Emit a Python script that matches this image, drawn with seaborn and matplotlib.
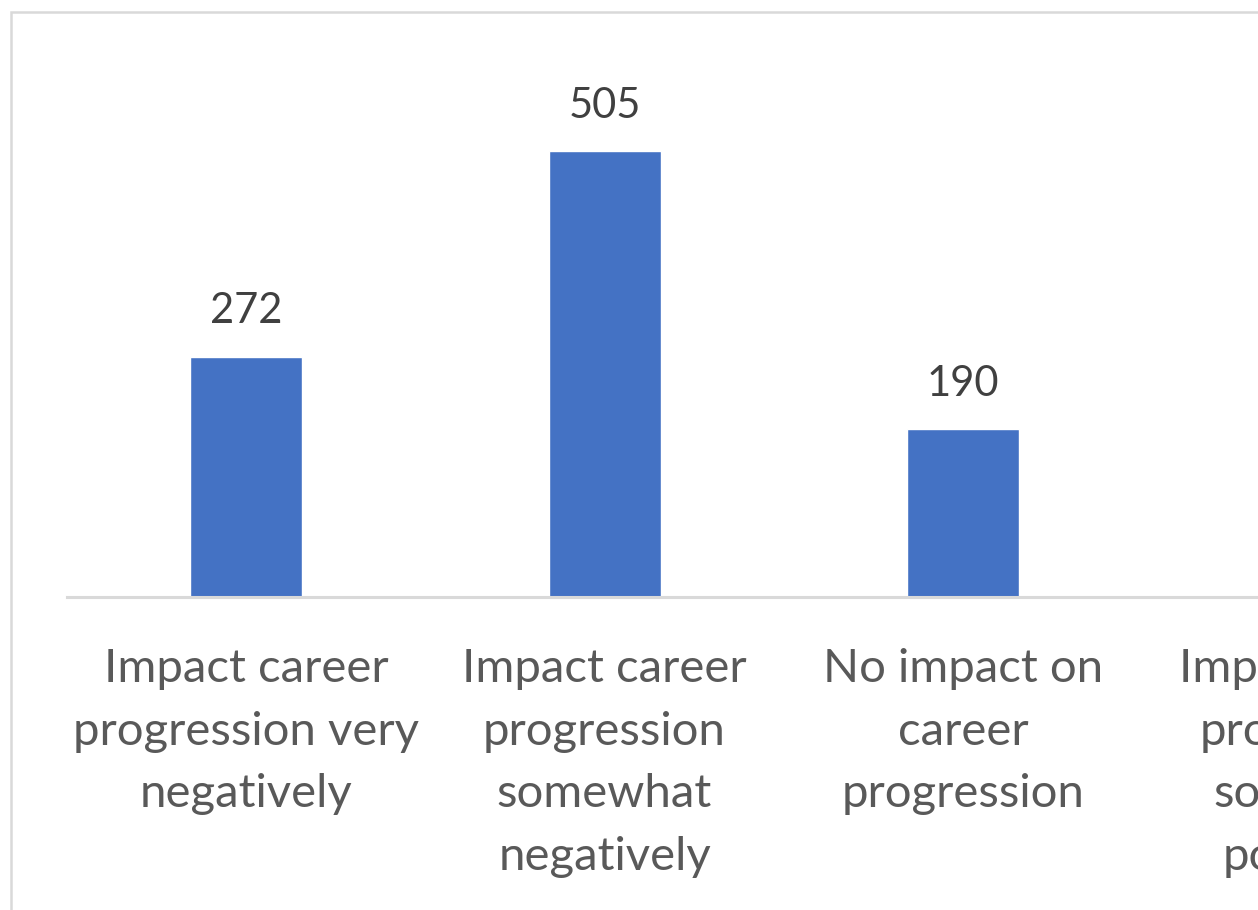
import textwrap

import matplotlib
matplotlib.use("Agg")
import matplotlib.pyplot as plt
from matplotlib.patches import Rectangle
import seaborn as sns

# Survey responses: perceived effect on career progression
categories = [
    "Impact career progression very negatively",
    "Impact career progression somewhat negatively",
    "No impact on career progression",
    "Impact career progression somewhat positively",
]
counts = [272, 505, 190, 120]
tick_labels = [textwrap.fill(c, width=16) for c in categories]

BAR_COLOR = "#4472C4"
GRID_GREY = "#D9D9D9"
LABEL_GREY = "#595959"
VALUE_GREY = "#404040"

sns.set_theme(style="white")
plt.rcParams["font.family"] = ["Lato", "DejaVu Sans"]

W, H = 1258, 910
fig = plt.figure(figsize=(W / 100, H / 100), dpi=100)

# Plot area: one category slot is ~358 px wide; the last slot runs past the canvas
slot = 358.5
left_px, base_px, top_px = 66.75, 597, 67
ax = fig.add_axes([
    left_px / W,
    (H - base_px) / H,
    slot * len(categories) / W,
    (base_px - top_px) / H,
])

sns.barplot(x=tick_labels, y=counts, color=BAR_COLOR, saturation=1,
            width=112 / slot, ax=ax)
ax.set_ylim(0, 600)
ax.set_xlim(-0.5, len(categories) - 0.5)

ax.bar_label(ax.containers[0], labels=[str(v) for v in counts],
             padding=19, fontsize=30, color=VALUE_GREY)

for side in ("top", "right", "left"):
    ax.spines[side].set_visible(False)
ax.spines["bottom"].set_color(GRID_GREY)
ax.spines["bottom"].set_linewidth(2.2)
ax.set_yticks([])
ax.set_ylabel("")
ax.set_xlabel("")
ax.tick_params(axis="x", length=0, pad=37, labelsize=34, labelcolor=LABEL_GREY)
for t in ax.get_xticklabels():
    t.set_linespacing(1.6)
    t.set_multialignment("center")

# Chart area border
fig.patches.append(Rectangle((10.5 / W, -0.1), 2.0, (H - 12.5) / H + 0.1,
                             transform=fig.transFigure, fill=False,
                             edgecolor=GRID_GREY, linewidth=1.8))

fig.savefig("out.png", dpi=100, facecolor="white")
